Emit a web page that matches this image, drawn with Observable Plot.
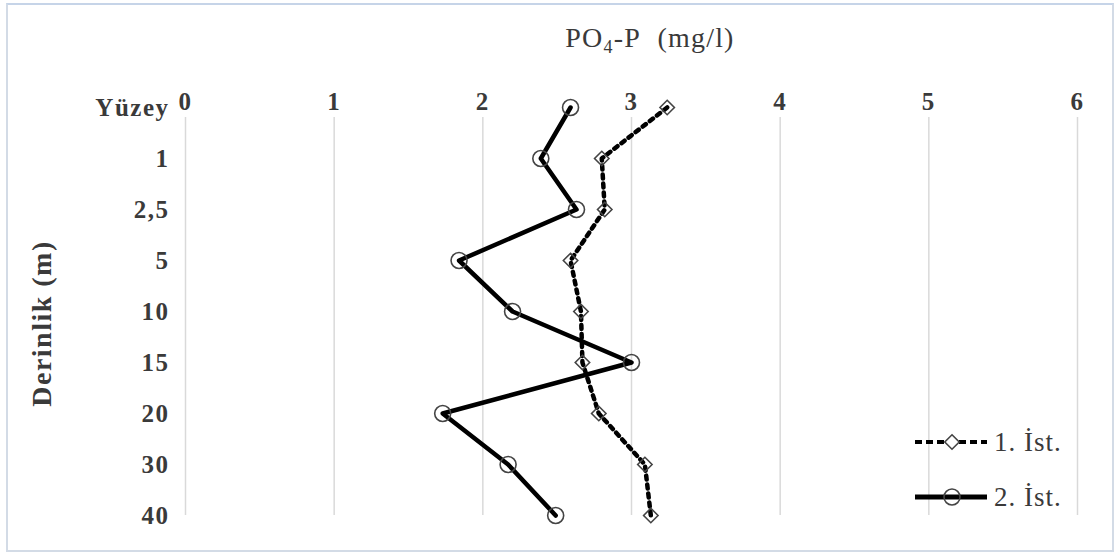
<!DOCTYPE html>
<html>
<head>
<meta charset="utf-8">
<script src="https://cdn.jsdelivr.net/npm/d3@7"></script>
<script src="https://cdn.jsdelivr.net/npm/@observablehq/plot@0.6"></script>
<style>
  body { margin: 0; background: #fff; }
  #wrap { position: relative; width: 1117px; height: 556px; overflow: hidden; background: #fff; }
  #chart, #legend { position: absolute; left: 0; top: 0; }
  #title { position: absolute; top: 22px; left: 450px; width: 400px; text-align: center;
           font: 28px "Liberation Serif", "Times New Roman", Times, serif; color: #3a3a3a; letter-spacing: 1.2px; line-height: 32px; }
  #title sub { font-size: 18px; vertical-align: -6px; line-height: 0; }
  #frame { position: absolute; left: 6px; top: 3px; width: 1108px; height: 549px;
           border: 2px solid #d3dbe6; border-top-color: #c6d4e8; box-sizing: border-box; pointer-events: none; }
</style>
</head>
<body>
<div id="wrap">
  <div id="chart"></div>
  <svg id="legend" width="1117" height="556"></svg>
  <div id="title">PO<sub>4</sub>-P&nbsp;&nbsp;(mg/l)</div>
  <div id="frame"></div>
</div>
<script>
// ---- data ----
const depths = ["Yüzey", "1", "2,5", "5", "10", "15", "20", "30", "40"];
const ist1 = [3.24, 2.80, 2.82, 2.59, 2.66, 2.67, 2.78, 3.09, 3.13];
const ist2 = [2.59, 2.39, 2.63, 1.84, 2.20, 3.00, 1.73, 2.17, 2.49];
const xTicks = [0, 1, 2, 3, 4, 5, 6];
const seriesNames = ["1. İst.", "2. İst."];
const yTitle = "Derinlik (m)";

const FONT = '"Liberation Serif", "Times New Roman", Times, serif';
const d1 = depths.map((d, i) => ({depth: d, value: ist1[i]}));
const d2 = depths.map((d, i) => ({depth: d, value: ist2[i]}));

const chart = Plot.plot({
  width: 1117,
  height: 556,
  marginLeft: 185,
  marginRight: 40,
  marginTop: 117,
  marginBottom: 41,
  style: {
    fontFamily: FONT,
    fontSize: "25px",
    fontWeight: "bold",
    color: "#3a3a3a",
    background: "transparent",
    overflow: "visible"
  },
  x: {domain: [0, 6], ticks: xTicks, tickFormat: d => String(d), axis: "top", tickSize: 0, tickPadding: 8, label: null},
  y: {type: "point", domain: depths, range: [105, 516], padding: 0, axis: "left", tickSize: 0, tickPadding: 16, label: null},
  marks: [
    Plot.ruleX(xTicks, {stroke: "#d9d9d9", strokeWidth: 1.5}),
    Plot.line(d1, {x: "value", y: "depth", stroke: "#000", strokeWidth: 4.5, strokeDasharray: "4,5"}),
    Plot.line(d2, {x: "value", y: "depth", stroke: "#000", strokeWidth: 4.5}),
    Plot.dot(d1, {x: "value", y: "depth", symbol: "diamond2", r: 6.5, stroke: "#444", strokeWidth: 1.6, fill: "none"}),
    Plot.dot(d2, {x: "value", y: "depth", symbol: "circle", r: 8, stroke: "#444", strokeWidth: 1.6, fill: "none"}),
    Plot.text([yTitle], {frameAnchor: "left", textAnchor: "middle", dx: -143, dy: 7, rotate: -90, fontSize: 28, fontWeight: "bold", fill: "#3a3a3a"})
  ]
});
chart.querySelectorAll("text").forEach(t => t.setAttribute("letter-spacing", "1.5"));
document.getElementById("chart").appendChild(chart);

// ---- legend ----
const leg = d3.select("#legend");
const rows = [
  {name: seriesNames[0], y: 442, dash: "7,4", sw: 4, symbol: d3.symbolDiamond2, size: Math.PI * 6.5 * 6.5},
  {name: seriesNames[1], y: 497, dash: null, sw: 5, symbol: d3.symbolCircle, size: Math.PI * 8 * 8}
];
rows.forEach(r => {
  leg.append("line").attr("x1", 915).attr("x2", 987).attr("y1", r.y).attr("y2", r.y)
    .attr("stroke", "#000").attr("stroke-width", r.sw).attr("stroke-dasharray", r.dash);
  leg.append("path").attr("d", d3.symbol(r.symbol, r.size)()).attr("transform", `translate(952,${r.y})`)
    .attr("fill", r.dash ? "#fff" : "none").attr("stroke", "#444").attr("stroke-width", 1.6);
  leg.append("text").attr("x", 994).attr("y", r.y).attr("dy", "0.35em")
    .attr("font-family", FONT).attr("font-size", 27).attr("fill", "#3a3a3a")
    .attr("letter-spacing", 1).text(r.name);
});
</script>
</body>
</html>
